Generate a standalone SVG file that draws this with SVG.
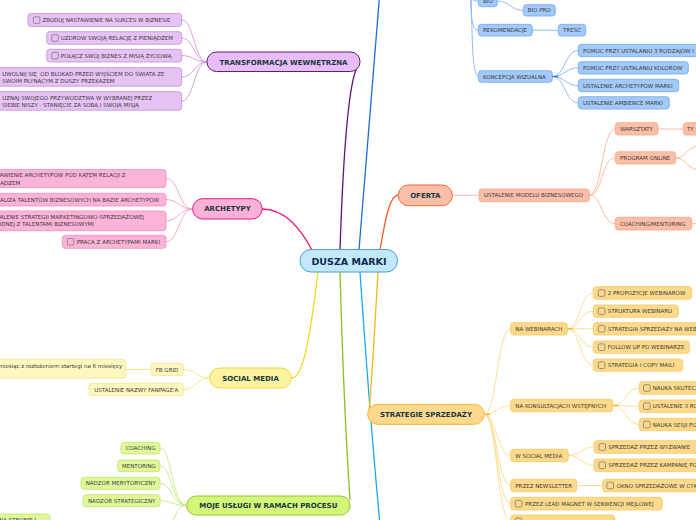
<svg xmlns="http://www.w3.org/2000/svg" width="696" height="520" viewBox="0 0 696 520">
<style>
text{font-family:"DejaVu Sans",Verdana,sans-serif}
.s{font-size:5.5px;fill:#3a3a3a}
.sl{font-size:5.5px;fill:#3a3a3a}
.m{font-size:7px;font-weight:bold;fill:#17383a;text-anchor:middle}
.c{font-size:9.5px;font-weight:bold;fill:#0f2b4d;text-anchor:middle}
.cb{fill:none;stroke:#7a7a7a;stroke-width:0.8}
.mc{fill:none;stroke-width:1.3}
.sc{fill:none;stroke-width:0.9}
.pu{fill:#e6c3f4;stroke:#c48fd6;stroke-width:0.8}
.pk{fill:#fcb3d8;stroke:#f38bbf;stroke-width:0.8}
.ye{fill:#fef7bf;stroke:#f3e58e;stroke-width:0.8}
.gr{fill:#dff99a;stroke:#c3e56a;stroke-width:0.8}
.or{fill:#fbbfa8;stroke:#f6a487;stroke-width:0.8}
.bl{fill:#a3c9f9;stroke:#6fa8ef;stroke-width:0.8}
.am{fill:#fdd98b;stroke:#f6c860;stroke-width:0.8}
</style>

<g id="connectors">
  <path class="mc" stroke="#f0197d" d="M312 250 C300 228 285 209 262 209"/>
  <path class="mc" stroke="#5a1a75" d="M340 250 C343 160 348 80 358 66"/>
  <path class="mc" stroke="#1a6cd6" d="M359 250 C366 160 373 70 380 -10"/>
  <path class="mc" stroke="#f25c2a" d="M380 250 C386 215 390 196 398 195"/>
  <path class="mc" stroke="#f0d820" d="M318 272 C312 320 305 378 292 378"/>
  <path class="mc" stroke="#8bc21c" d="M340 272 C343 380 348 470 350 500"/>
  <path class="mc" stroke="#1aa9ec" d="M360 272 C366 360 373 450 380 525"/>
  <path class="mc" stroke="#f8b81a" d="M378 272 C374 340 371 395 369 410"/>

  <g stroke="#c99ad8">
    <path class="sc" d="M207 62 C194 62 194 20 181.7 20"/>
    <path class="sc" d="M207 62 C194 62 194 38 181.7 38"/>
    <path class="sc" d="M207 62 C194 62 194 55.6 181.7 55.6"/>
    <path class="sc" d="M207 62 C194 62 194 77 181.7 77"/>
    <path class="sc" d="M207 62 C194 62 194 101 181.7 101"/>
  </g>
  <g stroke="#f59ac8">
    <path class="sc" d="M192.7 209 C179 209 179 178.5 166 178.5"/>
    <path class="sc" d="M192.7 209 C179 209 179 199.6 166 199.6"/>
    <path class="sc" d="M192.7 209 C179 209 179 220.8 166 220.8"/>
    <path class="sc" d="M192.7 209 C179 209 179 241.8 166 241.8"/>
  </g>
  <g stroke="#f5e68a">
    <path class="sc" d="M209.5 378 C196 378 196 369.5 183.3 369.5"/>
    <path class="sc" d="M209.5 378 C196 378 196 389.5 183.3 389.5"/>
    <path class="sc" d="M151 369.5 L125.7 369.5"/>
  </g>
  <g stroke="#c8e68a">
    <path class="sc" d="M186.7 505.5 C172 505.5 172 448 160 448"/>
    <path class="sc" d="M186.7 505.5 C172 505.5 172 465.8 160 465.8"/>
    <path class="sc" d="M186.7 505.5 C172 505.5 172 483.3 160 483.3"/>
    <path class="sc" d="M186.7 505.5 C172 505.5 172 500.7 160 500.7"/>
    <path class="sc" d="M186.7 505.5 C176 505.5 175 520 168 530"/>
  </g>
  <g stroke="#f9b49a">
    <path class="sc" d="M452.3 195.3 L479 195.3"/>
    <path class="sc" d="M589.3 195.3 C602 195.3 602 129 615.3 129"/>
    <path class="sc" d="M589.3 195.3 C603 195.3 601 158 615.3 158"/>
    <path class="sc" d="M589.3 195.3 C602 195.3 602 223.7 615.3 223.7"/>
    <path class="sc" d="M658 129 L683.3 129"/>
    <path class="sc" d="M675.7 158 C686 158 686 148 698 146"/>
    <path class="sc" d="M675.7 158 C686 158 686 168 698 170"/>
    <path class="sc" d="M691.7 223.7 L698 223.7"/>
  </g>
  <g stroke="#82b4f2">
    <path class="sc" d="M470 -10 C471 0 472 1 478.3 1"/>
    <path class="sc" d="M470.5 -10 C471 15 471 30 478.3 30.2"/>
    <path class="sc" d="M471 -10 C472 30 472 76.5 478.3 76.5"/>
    <path class="sc" d="M497.3 1 C510 1 510 10.3 523.3 10.3"/>
    <path class="sc" d="M532.3 30.2 L558.3 30.2"/>
    <path class="sc" d="M552.3 76.5 C565 76.5 565 50.5 578.3 50.5"/>
    <path class="sc" d="M552.3 76.5 C565 76.5 565 67.8 578.3 67.8"/>
    <path class="sc" d="M552.3 76.5 C565 76.5 565 85.5 578.3 85.5"/>
    <path class="sc" d="M552.3 76.5 C565 76.5 565 102.8 578.3 102.8"/>
    <path fill="none" stroke="#2a78e0" stroke-width="1.3" d="M552.3 76.5 L558 76.5"/>
  </g>
  <g stroke="#fcd98a">
    <path class="sc" d="M484.3 414.3 C497 414.3 497 328.8 510.7 328.8"/>
    <path class="sc" d="M484.3 414.3 C497 414.3 497 405.5 510.7 405.5"/>
    <path class="sc" d="M484.3 414.3 C497 414.3 497 455.5 510.7 455.5"/>
    <path class="sc" d="M484.3 414.3 C497 414.3 497 485.5 510.7 485.5"/>
    <path class="sc" d="M484.3 414.3 C497 414.3 497 503.7 510.7 503.7"/>
    <path class="sc" d="M484.3 414.3 C497 414.3 497 521 510.7 521"/>
    <path class="sc" d="M567.3 328.8 C580 328.8 580 293 593.3 293"/>
    <path class="sc" d="M567.3 328.8 C580 328.8 580 311.2 593.3 311.2"/>
    <path class="sc" d="M567.3 328.8 L593.3 328.8"/>
    <path class="sc" d="M567.3 328.8 C580 328.8 580 347.2 593.3 347.2"/>
    <path class="sc" d="M567.3 328.8 C580 328.8 580 365.2 593.3 365.2"/>
    <path class="sc" d="M612.7 405.5 C626 405.5 626 388 639.3 388"/>
    <path class="sc" d="M612.7 405.5 C626 405.5 626 406.2 639.3 406.2"/>
    <path class="sc" d="M612.7 405.5 C626 405.5 626 424.5 639.3 424.5"/>
    <path class="sc" d="M568.3 455.5 C581 455.5 581 447 594 447"/>
    <path class="sc" d="M568.3 455.5 C581 455.5 581 465.3 594 465.3"/>
    <path class="sc" d="M576.7 485.5 L602.7 485.5"/>
  </g>
  <path fill="none" stroke="#f8b81a" stroke-width="1.3" d="M484.3 414.3 L490 414.3"/>
  <path fill="none" stroke="#f8b81a" stroke-width="1.2" d="M567.3 328.8 L573 328.8"/>
  <path fill="none" stroke="#f8b81a" stroke-width="1.2" d="M612.7 405.5 L618 405.5"/>
</g>

<g id="dusza-marki">
  <rect x="300" y="249.5" width="97.5" height="22.5" rx="11" fill="#c3e8fb" stroke="#4a9ed8" stroke-width="1"/>
  <text class="c" x="349" y="264.5">DUSZA MARKI</text>
</g>

<g id="transformacja">
  <rect x="207" y="52" width="153" height="19.5" rx="9.5" fill="#e8bdf7" stroke="#5c1f6e" stroke-width="1"/>
  <text class="m" x="283.5" y="64.5">TRANSFORMACJA WEWNĘTRZNA</text>
</g>
<g id="t1"><rect class="pu" x="28" y="13.5" width="153.7" height="13" rx="3"/><rect class="cb" x="33.3" y="16.8" width="6.6" height="6.6" rx="1.3"/><text class="s" x="42.5" y="22.2">ZBUDUJ NASTAWIENIE NA SUKCES W BIZNESIE</text></g>
<g id="t2"><rect class="pu" x="46.7" y="31.7" width="135" height="12.5" rx="3"/><rect class="cb" x="51.7" y="34.7" width="6.6" height="6.6" rx="1.3"/><text class="s" x="60.8" y="40">UZDRÓW SWOJĄ RELACJĘ Z PIENIĄDZEM</text></g>
<g id="t3"><rect class="pu" x="46.7" y="49.3" width="135" height="12.7" rx="3"/><rect class="cb" x="51.7" y="52.3" width="6.6" height="6.6" rx="1.3"/><text class="s" x="60.8" y="57.6">POŁĄCZ SWÓJ BIZNES Z MISIĄ ŻYCIOWĄ</text></g>
<g id="t4"><rect class="pu" x="-5" y="67.7" width="186.7" height="18.5" rx="3"/><text class="s" x="2.3" y="75.8" xml:space="preserve">UWOLNIJ SIĘ  OD BLOKAD PRZED WYJŚCIEM DO ŚWIATA ZE</text><text class="s" x="2.3" y="82.8">SWOIM PŁYNĄCYM Z DUSZY PRZEKAZEM</text></g>
<g id="t5"><rect class="pu" x="-5" y="91.7" width="186.7" height="18.5" rx="3"/><text class="s" x="2.3" y="100.2">UZNAJ SWOJEGO PRZYWÓDZTWA W WYBRANEJ PRZEZ</text><text class="s" x="2.3" y="107">SIEBIE NISZY - STANIĘCIE ZA SOBĄ I SWOJĄ MISJĄ</text></g>

<g id="archetypy">
  <rect x="192.7" y="198.7" width="69.5" height="20.3" rx="10" fill="#fdb0d8" stroke="#e8197d" stroke-width="1"/>
  <text class="m" x="227.5" y="211.4">ARCHETYPY</text>
</g>
<g id="a1"><rect class="pk" x="-5" y="169.5" width="171" height="18" rx="3"/><text class="s" x="-14" y="177">ZESTAWIENIE ARCHETYPÓW POD KĄTEM RELACJI Z</text><text class="s" x="-14" y="184.5">PIENIĄDZEM</text></g>
<g id="a2"><rect class="pk" x="-5" y="193.3" width="171" height="12.7" rx="3"/><text class="s" x="-8" y="201.6">ANALIZA TALENTÓW BIZNESOWYCH NA BAZIE ARCHETYPÓW</text></g>
<g id="a3"><rect class="pk" x="-5" y="211" width="171" height="19.7" rx="3"/><text class="s" x="-11" y="219.3">USTALENIE STRATEGII MARKETINGOWO-SPRZEDAŻOWEJ</text><text class="s" x="-11" y="226.3">ZGODNEJ Z TALENTAMI BIZNESOWYMI</text></g>
<g id="a4"><rect class="pk" x="62.3" y="235.3" width="103.7" height="13" rx="3"/><rect class="cb" x="67.3" y="238.5" width="6.6" height="6.6" rx="1.3"/><text class="s" x="76.7" y="243.8">PRACA Z ARCHETYPAMI MARKI</text></g>

<g id="social-media">
  <rect x="209.5" y="368" width="82" height="20" rx="10" fill="#fdf3a0" stroke="#ecd94a" stroke-width="1"/>
  <text class="m" x="250.5" y="380.6">SOCIAL MEDIA</text>
</g>
<g id="s1"><rect class="ye" x="151" y="363.3" width="32.3" height="12.4" rx="3"/><text class="s" x="155.7" y="371.5">FB GRID</text></g>
<g id="s2"><rect class="ye" x="-5" y="359.3" width="130.7" height="19" rx="3"/><text class="sl" x="-1.5" y="368">miesiąc z rozłożeniem startegi na 6 miesięcy</text></g>
<g id="s3"><rect class="ye" x="89" y="383.3" width="94.3" height="12.4" rx="3"/><text class="s" x="94.3" y="391.5">USTALENIE NAZWY FANPAGE'A</text></g>

<g id="moje-uslugi">
  <rect x="186.7" y="496" width="163.3" height="19" rx="9.5" fill="#d4f77a" stroke="#92c52a" stroke-width="1"/>
  <text class="m" x="268.3" y="508">MOJE USŁUGI W RAMACH PROCESU</text>
</g>
<g id="u1"><rect class="gr" x="121" y="442.3" width="39" height="11.7" rx="3"/><text class="s" x="125.7" y="450.1">COACHING</text></g>
<g id="u2"><rect class="gr" x="117.7" y="460" width="42.3" height="11.7" rx="3"/><text class="s" x="122" y="467.8">MENTORING</text></g>
<g id="u3"><rect class="gr" x="81" y="477.3" width="79" height="12" rx="3"/><text class="s" x="85.7" y="485.3">NADZÓR MERYTORYCZNY</text></g>
<g id="u4"><rect class="gr" x="83" y="494.7" width="77" height="12" rx="3"/><text class="s" x="88" y="502.7">NADZÓR STRATEGICZNY</text></g>
<g id="u5"><rect class="gr" x="-5" y="514" width="55" height="14" rx="3"/><text class="s" x="-1" y="521.6">NA STRONIE I</text></g>

<g id="oferta">
  <rect x="398.3" y="185" width="54" height="20.7" rx="10" fill="#fbbea8" stroke="#f36a3c" stroke-width="1"/>
  <text class="m" x="425.3" y="197.8">OFERTA</text>
</g>
<g id="o1"><rect class="or" x="479" y="189" width="110.3" height="12.7" rx="3"/><text class="s" x="484" y="197.4">USTALENIE MODELU BIZNESOWEGO</text></g>
<g id="o2"><rect class="or" x="615.3" y="122.7" width="42.7" height="12.3" rx="3"/><text class="s" x="620" y="130.9">WARSZTATY</text></g>
<g id="o3"><rect class="or" x="683.3" y="122.7" width="30" height="12.3" rx="3"/><text class="s" x="687" y="130.9">TY</text></g>
<g id="o4"><rect class="or" x="615.3" y="151.7" width="60.4" height="12.3" rx="3"/><text class="s" x="620" y="159.9">PROGRAM ONLINE</text></g>
<g id="o5"><rect class="or" x="615.3" y="217.3" width="76.4" height="12.7" rx="3"/><text class="s" x="620" y="225.7">COACHING/MENTORING</text></g>

<g id="b1"><rect class="bl" x="478.3" y="-5.5" width="19" height="12.2" rx="3"/><text class="s" x="483" y="3.3">BIO</text></g>
<g id="b2"><rect class="bl" x="523.3" y="4.7" width="32" height="11.3" rx="3"/><text class="s" x="527.7" y="12.4">BIO PRO</text></g>
<g id="b3"><rect class="bl" x="478.3" y="24.3" width="54" height="11.7" rx="3"/><text class="s" x="483" y="32.2">REKOMENDACJE</text></g>
<g id="b4"><rect class="bl" x="558.3" y="24.3" width="27.4" height="11.7" rx="3"/><text class="s" x="563" y="32.2">TREŚĆ</text></g>
<g id="b5"><rect class="bl" x="478.3" y="70.7" width="74" height="11.6" rx="3"/><text class="s" x="483" y="78.5">KONCEPCJA WIZUALNA</text></g>
<g id="b6"><rect class="bl" x="578.3" y="44.3" width="130" height="12.4" rx="3"/><text class="s" x="583" y="52.5">POMOC PRZY USTALANIU 3 RODZAJÓW I</text></g>
<g id="b7"><rect class="bl" x="578.3" y="61.7" width="110" height="12.3" rx="3"/><text class="s" x="583" y="69.8">POMOC PRZY USTALANIU KOLORÓW</text></g>
<g id="b8"><rect class="bl" x="578.3" y="79.3" width="100.4" height="12.4" rx="3"/><text class="s" x="583" y="87.5">USTALENIE ARCHETYPÓW MARKI</text></g>
<g id="b9"><rect class="bl" x="578.3" y="96.7" width="91" height="12.3" rx="3"/><text class="s" x="583" y="104.8">USTALENIE AMBIENCE MARKI</text></g>

<g id="strategie">
  <rect x="367.7" y="404.3" width="116.6" height="20" rx="10" fill="#fed88c" stroke="#f7b52a" stroke-width="1"/>
  <text class="m" x="426" y="416.9">STRATEGIE SPRZEDAŻY</text>
</g>
<g id="r1"><rect class="am" x="510.7" y="322.7" width="56.6" height="12.3" rx="3"/><text class="s" x="515.3" y="330.9">NA WEBINARACH</text></g>
<g id="r2"><rect class="am" x="510.7" y="399.3" width="102" height="12.4" rx="3"/><text class="s" x="515.3" y="407.5">NA KONSULTACJACH WSTĘPNYCH</text></g>
<g id="r3"><rect class="am" x="510.7" y="449.3" width="57.6" height="12.4" rx="3"/><text class="s" x="515.3" y="457.5">W SOCIAL MEDIA</text></g>
<g id="r4"><rect class="am" x="510.7" y="479.3" width="66" height="12.4" rx="3"/><text class="s" x="515.3" y="487.5">PRZEZ NEWSLETTER</text></g>
<g id="r5"><rect class="am" x="510.7" y="497.3" width="151.6" height="12.7" rx="3"/><rect class="cb" x="515.3" y="500.4" width="6.6" height="6.6" rx="1.3"/><text class="s" x="525" y="505.7">PRZEZ LEAD MAGNET W SEKWENCJI MEJLOWEJ</text></g>
<g id="r6"><rect class="am" x="510.7" y="515" width="104" height="13" rx="3"/><rect class="cb" x="515.3" y="518" width="6.6" height="6.6" rx="1.3"/></g>

<g id="w1"><rect class="am" x="593.3" y="286.7" width="98.4" height="12.6" rx="3"/><rect class="cb" x="598.3" y="289.7" width="6.6" height="6.6" rx="1.3"/><text class="s" x="607.7" y="295">2 PROPOZYCJE WEBINARÓW</text></g>
<g id="w2"><rect class="am" x="593.3" y="305" width="85" height="12.3" rx="3"/><rect class="cb" x="598.3" y="307.9" width="6.6" height="6.6" rx="1.3"/><text class="s" x="607.7" y="313.2">STRUKTURA WEBINARU</text></g>
<g id="w3"><rect class="am" x="593.3" y="322.7" width="120" height="12.3" rx="3"/><rect class="cb" x="598.3" y="325.5" width="6.6" height="6.6" rx="1.3"/><text class="s" x="607.7" y="330.8">STRATEGIA SPRZEDAŻY NA WEBINARZE</text></g>
<g id="w4"><rect class="am" x="593.3" y="341" width="96" height="12.3" rx="3"/><rect class="cb" x="598.3" y="343.9" width="6.6" height="6.6" rx="1.3"/><text class="s" x="607.7" y="349.2">FOLLOW UP PO WEBINARZE</text></g>
<g id="w5"><rect class="am" x="593.3" y="359" width="89.4" height="12.3" rx="3"/><rect class="cb" x="598.3" y="361.9" width="6.6" height="6.6" rx="1.3"/><text class="s" x="607.7" y="367.2">STRATEGIA I COPY MAILI</text></g>

<g id="k1"><rect class="am" x="639.3" y="381.7" width="80" height="12.6" rx="3"/><rect class="cb" x="643.5" y="384.7" width="6.6" height="6.6" rx="1.3"/><text class="s" x="652.7" y="390">NAUKA SKUTECZNEJ</text></g>
<g id="k2"><rect class="am" x="639.3" y="400" width="80" height="12.4" rx="3"/><rect class="cb" x="643.5" y="402.9" width="6.6" height="6.6" rx="1.3"/><text class="s" x="652.7" y="408.2">USTALENIE 3 RODZAJÓW</text></g>
<g id="k3"><rect class="am" x="639.3" y="418.3" width="80" height="12.4" rx="3"/><rect class="cb" x="643.5" y="421.2" width="6.6" height="6.6" rx="1.3"/><text class="s" x="652.7" y="426.5">NAUKA SESJI POKAZOWEJ</text></g>

<g id="m1"><rect class="am" x="594" y="440.7" width="110" height="12.6" rx="3"/><rect class="cb" x="599" y="443.7" width="6.6" height="6.6" rx="1.3"/><text class="s" x="608.3" y="449">SPRZEDAŻ PRZEZ WYZWANIE</text></g>
<g id="m2"><rect class="am" x="594" y="459" width="110" height="12.7" rx="3"/><rect class="cb" x="599" y="462" width="6.6" height="6.6" rx="1.3"/><text class="s" x="608.3" y="467.3">SPRZEDAŻ PRZEZ KAMPANIĘ POSTÓW</text></g>
<g id="n1"><rect class="am" x="602.7" y="479.3" width="100" height="12.4" rx="3"/><rect class="cb" x="606.9" y="482.2" width="6.6" height="6.6" rx="1.3"/><text class="s" x="616.7" y="487.5">OKNO SPRZEDAŻOWE W CYKLU</text></g>
</svg>
